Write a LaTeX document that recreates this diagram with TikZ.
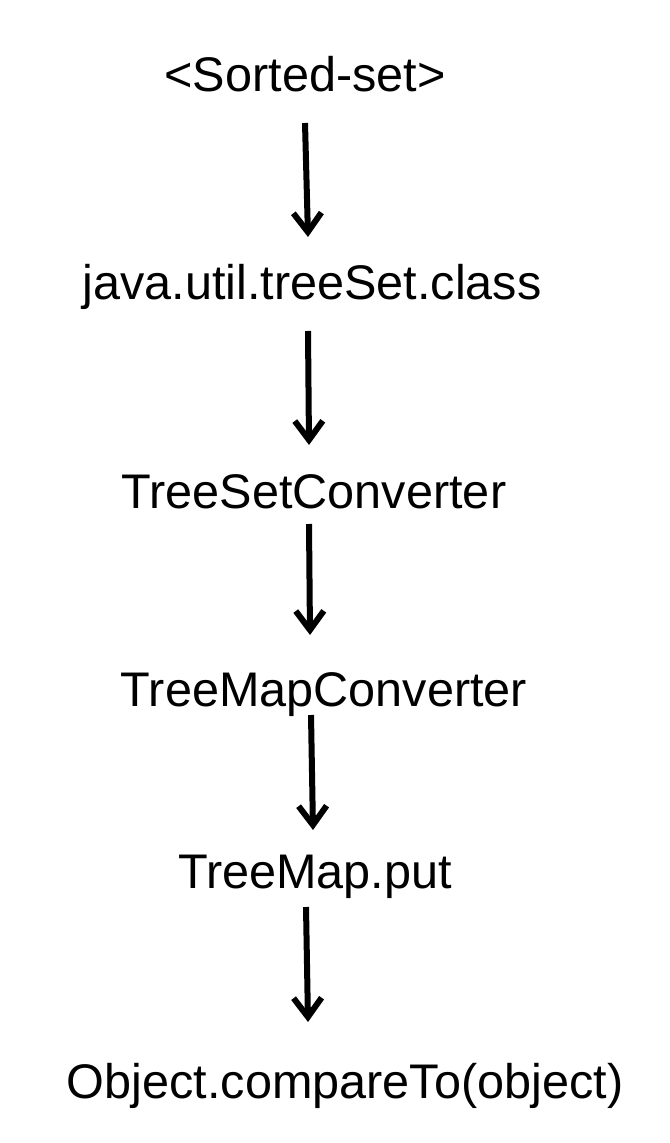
\documentclass[tikz,border=0pt]{standalone}
\usepackage{fontspec}
\setmainfont{Liberation Sans}
\usetikzlibrary{arrows.meta,calc}
\begin{document}
\begin{tikzpicture}[x=0.5pt,y=-0.5pt,
    label/.style={anchor=base,inner sep=0pt,font=\fontsize{24.3}{28}\selectfont},
    flow/.style={line width=3pt,-{Straight Barb[length=9.5pt,width=14pt]}}]

    % 画布大小
    \useasboundingbox (0,0) rectangle (669,1143);

    % 调用链上的各个名称
    \node[label] (sorted)  at (305,92)   {<Sorted-set>};
    \node[label] (treeset) at (312,300)  {java.util.treeSet.class};
    \node[label] (setconv) at (314,508)  {TreeSetConverter};
    \node[label] (mapconv) at (324,706)  {TreeMapConverter};
    \node[label] (mapput)  at (315,888)  {TreeMap.put};
    \node[label] (compare) at (345,1098) {Object.compareTo(object)};

    % 向下的箭头
    \draw[flow] ($(sorted.base)+(0,31)$)   -- ($(treeset.base)+(-4,-63)$);
    \draw[flow] ($(treeset.base)+(-4,31)$) -- ($(setconv.base)+(-5,-63)$);
    \draw[flow] ($(setconv.base)+(-5,16)$) -- ($(mapconv.base)+(-14,-71)$);
    \draw[flow] ($(mapconv.base)+(-13,9)$) -- ($(mapput.base)+(-2,-58)$);
    \draw[flow] ($(mapput.base)+(-9,19)$)  -- ($(compare.base)+(-37,-76)$);
\end{tikzpicture}
\end{document}
